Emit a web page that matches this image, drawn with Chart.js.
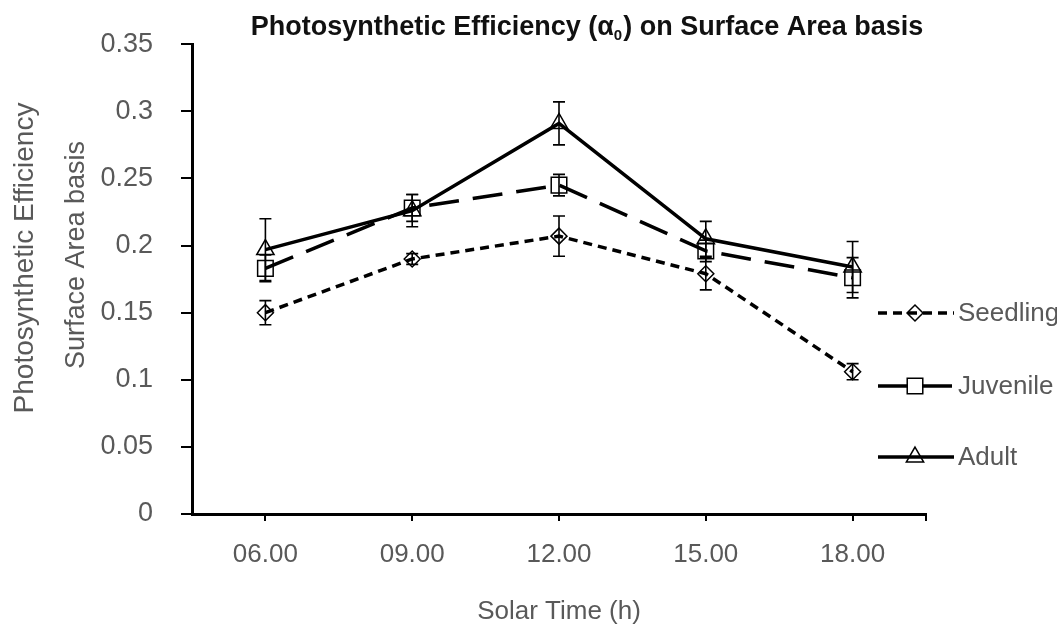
<!DOCTYPE html>
<html>
<head>
<meta charset="utf-8">
<title>Photosynthetic Efficiency</title>
<script src="https://cdn.jsdelivr.net/npm/chart.js@4/dist/chart.umd.min.js"></script>
<style>
  html, body { margin: 0; padding: 0; background: #fff; }
  #wrap { width: 1057px; height: 631px; }
</style>
</head>
<body>
<div id="wrap"><canvas id="chart" width="1057" height="631"></canvas></div>
<script>
(() => {
  "use strict";

  // Data
  const hours = ["06.00", "09.00", "12.00", "15.00", "18.00"];
  const seedling = [0.150, 0.190, 0.207, 0.179, 0.106];
  const seedlingErr = [0.009, 0.004, 0.015, 0.012, 0.006];
  const juvenile = [0.183, 0.228, 0.245, 0.196, 0.176];
  const juvenileErr = [0.010, 0.010, 0.008, 0.008, 0.015];
  const adult = [0.197, 0.226, 0.291, 0.205, 0.184];
  const adultErr = [0.023, 0.012, 0.016, 0.013, 0.019];

  const FONT = "'Liberation Sans', Arial, sans-serif";
  const GREY = "#595959";
  const TXT = 26;

  // Vertical error bars with caps
  const errorBars = {
    id: "errorBars",
    afterDatasetsDraw(chart) {
      const { ctx } = chart;
      const y = chart.scales.y;
      ctx.save();
      ctx.strokeStyle = "#000";
      ctx.lineWidth = 1.6;
      chart.data.datasets.forEach((ds, i) => {
        const meta = chart.getDatasetMeta(i);
        meta.data.forEach((pt, j) => {
          const v = ds.data[j], e = ds.err[j];
          const top = y.getPixelForValue(v + e);
          const bot = y.getPixelForValue(v - e);
          ctx.beginPath();
          ctx.moveTo(pt.x, top); ctx.lineTo(pt.x, bot);
          ctx.moveTo(pt.x - 6, top); ctx.lineTo(pt.x + 6, top);
          ctx.moveTo(pt.x - 6, bot); ctx.lineTo(pt.x + 6, bot);
          ctx.stroke();
        });
      });
      ctx.restore();
    }
  };

  // Title, two-line y title, end tick and side legend
  const decorations = {
    id: "decorations",
    afterDraw(chart) {
      const { ctx, chartArea } = chart;
      ctx.save();

      // title with subscripted alpha
      const p1 = "Photosynthetic Efficiency (\u03b1";
      const sub = "0";
      const p2 = ") on Surface Area basis";
      const big = `bold 27px ${FONT}`, small = `bold 15px ${FONT}`;
      ctx.font = big;
      const w1 = ctx.measureText(p1).width, w2 = ctx.measureText(p2).width;
      ctx.font = small;
      const ws = ctx.measureText(sub).width + 1;
      let x = 587 - (w1 + ws + w2) / 2;
      const base = 35;
      ctx.fillStyle = "#111";
      ctx.textBaseline = "alphabetic";
      ctx.textAlign = "left";
      ctx.font = big; ctx.fillText(p1, x, base); x += w1;
      ctx.font = small; ctx.fillText(sub, x, base + 5); x += ws;
      ctx.font = big; ctx.fillText(p2, x, base);

      // y axis title lines
      ctx.fillStyle = GREY;
      ctx.textAlign = "center";
      ctx.textBaseline = "middle";
      [["Photosynthetic Efficiency", 25, 258, 28], ["Surface Area basis", 77, 255, 27]].forEach(([t, cx, cy, sz]) => {
        ctx.save();
        ctx.font = `${sz}px ${FONT}`;
        ctx.translate(cx, cy);
        ctx.rotate(-Math.PI / 2);
        ctx.fillText(t, 0, 0);
        ctx.restore();
      });

      // closing tick at right end of x axis
      ctx.strokeStyle = "#000";
      ctx.lineWidth = 2;
      ctx.beginPath();
      ctx.moveTo(chartArea.right, chartArea.bottom);
      ctx.lineTo(chartArea.right, chartArea.bottom + 7);
      ctx.stroke();

      // legend
      const rows = [313, 386, 457];
      chart.data.datasets.forEach((ds, i) => {
        const ly = rows[i];
        ctx.save();
        ctx.strokeStyle = "#000";
        ctx.lineWidth = ds.borderWidth;
        ctx.setLineDash(ds.borderDash || []);
        ctx.beginPath();
        ctx.moveTo(878, ly); ctx.lineTo(954, ly);
        ctx.stroke();
        ctx.restore();
        ctx.save();
        ctx.strokeStyle = "#000";
        ctx.fillStyle = "rgba(0,0,0,0)";
        ctx.lineWidth = 1.5;
        Chart.helpers.drawPoint(ctx, {
          pointStyle: ds.pointStyle, radius: ds.pointRadius, borderWidth: 1.5
        }, 915, ly);
        ctx.restore();
        ctx.fillStyle = GREY;
        ctx.font = `${TXT}px ${FONT}`;
        ctx.textAlign = "left";
        ctx.textBaseline = "middle";
        ctx.fillText(ds.label, 958, ly + 1);
      });
      ctx.restore();
    }
  };

  const series = (label, data, err, dash, style, r) => ({
    label, data, err,
    borderColor: "#000",
    borderWidth: 3.5,
    borderDash: dash,
    pointStyle: style,
    pointRadius: r,
    pointHoverRadius: r,
    pointBorderColor: "#000",
    pointBackgroundColor: "rgba(0,0,0,0)",
    pointBorderWidth: 1.5,
    tension: 0
  });

  new Chart(document.querySelector("#chart"), {
    type: "line",
    data: {
      labels: hours,
      datasets: [
        series("Seedling", seedling, seedlingErr, [9, 6], "rectRot", 8),
        series("Juvenile", juvenile, juvenileErr, [30, 14], "rect", 11),
        series("Adult", adult, adultErr, [], "triangle", 10)
      ]
    },
    options: {
      responsive: false,
      animation: false,
      devicePixelRatio: 1,
      layout: { padding: { left: 0, right: 131, top: 42, bottom: 0 } },
      plugins: {
        legend: { display: false },
        title: { display: false },
        tooltip: { enabled: false }
      },
      scales: {
        x: {
          offset: true,
          afterFit: (s) => { s.height = 117; },
          border: { display: true, color: "#000", width: 3 },
          grid: { drawOnChartArea: false, drawTicks: true, tickLength: 7, color: "#000", lineWidth: 2 },
          ticks: { color: GREY, font: { family: FONT, size: TXT }, padding: 18, maxRotation: 0 },
          title: {
            display: true, text: "Solar Time (h)", color: GREY,
            font: { family: FONT, size: TXT }, padding: { top: 0, bottom: 4 }
          }
        },
        y: {
          min: 0, max: 0.35,
          afterFit: (s) => { s.width = 192; },
          border: { display: true, color: "#000", width: 3 },
          grid: { drawOnChartArea: false, drawTicks: true, tickLength: 11, color: "#000", lineWidth: 2 },
          ticks: {
            stepSize: 0.05, color: GREY, font: { family: FONT, size: 27 }, padding: 28,
            callback: (v) => String(Number(v.toFixed(2)))
          }
        }
      }
    },
    plugins: [errorBars, decorations]
  });
})();
</script>
</body>
</html>
